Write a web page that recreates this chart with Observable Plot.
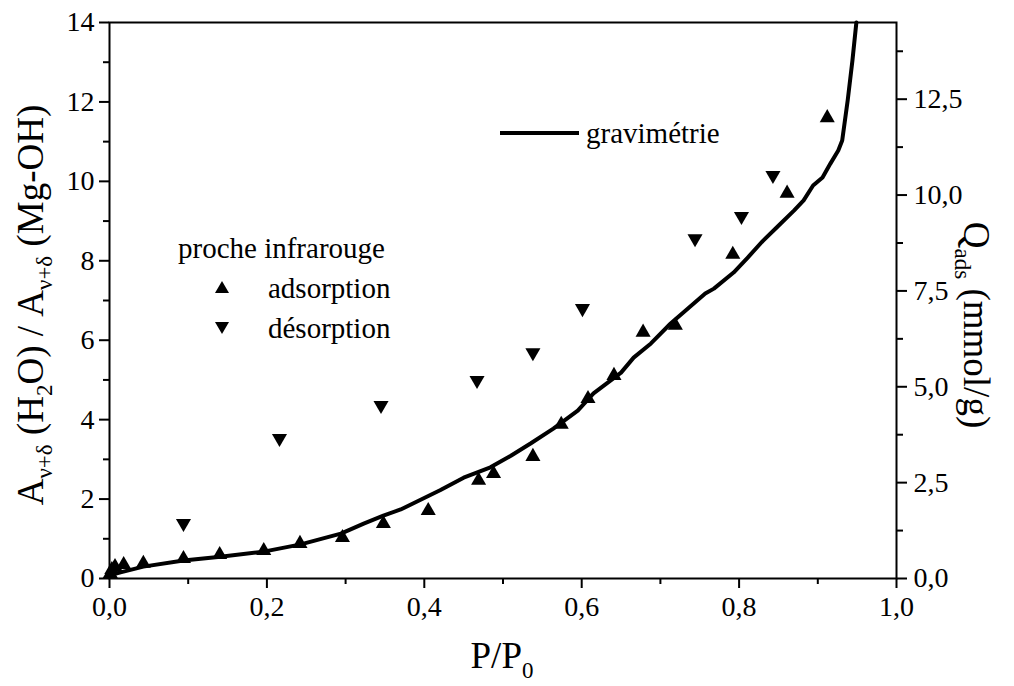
<!DOCTYPE html>
<html>
<head>
<meta charset="utf-8">
<script src="https://cdn.jsdelivr.net/npm/d3@7"></script>
<script src="https://cdn.jsdelivr.net/npm/@observablehq/plot@0.6"></script>
<style>
  body { margin: 0; background: #fff; }
  #chart { width: 1014px; height: 686px; }
  #chart svg, #chart svg text, #chart svg tspan {
    font-family: "Liberation Serif", "DejaVu Serif", "Times New Roman", serif !important;
  }
</style>
</head>
<body>
<div id="chart"></div>
<script>
// Near-infrared band ratio A(H2O)/A(Mg-OH), adsorption branch
const adsP = [0.001, 0.003, 0.007, 0.018, 0.043, 0.094, 0.140, 0.196, 0.242, 0.296, 0.348, 0.405,
              0.469, 0.488, 0.538, 0.574, 0.608, 0.641, 0.678, 0.719, 0.792, 0.861, 0.912];
const adsA = [0.12, 0.22, 0.30, 0.35, 0.38, 0.50, 0.60, 0.70, 0.88, 1.03, 1.38, 1.71,
              2.47, 2.64, 3.07, 3.88, 4.53, 5.11, 6.20, 6.37, 8.16, 9.70, 11.60];

// Near-infrared band ratio, desorption branch
const desP = [0.094, 0.216, 0.345, 0.467, 0.538, 0.601, 0.744, 0.803, 0.843];
const desA = [1.39, 3.53, 4.36, 4.99, 5.69, 6.80, 8.56, 9.12, 10.15];

// Gravimetric isotherm: adsorbed amount Q_ads (mmol/g)
const gravP = [0.000, 0.014, 0.043, 0.094, 0.141, 0.196, 0.243, 0.294, 0.323, 0.348, 0.370, 0.396,
               0.420, 0.450, 0.484, 0.510, 0.535, 0.564, 0.595, 0.615, 0.650, 0.666, 0.688, 0.713,
               0.735, 0.757, 0.768, 0.793, 0.811, 0.830, 0.850, 0.870, 0.882, 0.894, 0.906, 0.916,
               0.926, 0.931, 0.938, 0.944, 0.949];
const gravQ = [0.08, 0.16, 0.31, 0.47, 0.57, 0.70, 0.89, 1.17, 1.43, 1.64, 1.80, 2.06,
               2.30, 2.63, 2.90, 3.20, 3.52, 3.91, 4.38, 4.83, 5.37, 5.76, 6.13, 6.65,
               7.04, 7.43, 7.56, 7.98, 8.37, 8.80, 9.20, 9.60, 9.86, 10.25, 10.46, 10.82,
               11.16, 11.42, 12.47, 13.51, 14.50];

// Axis ticks
const xTicks = [0, 0.2, 0.4, 0.6, 0.8, 1.0];
const xMinor = [0.1, 0.3, 0.5, 0.7, 0.9];
const leftTicks = [0, 2, 4, 6, 8, 10, 12, 14];
const leftMinor = [1, 3, 5, 7, 9, 11, 13];
const rightTicks = [0, 2.5, 5, 7.5, 10, 12.5];
const rightMinor = [1.25, 3.75, 6.25, 8.75, 11.25, 13.75];

// Left axis spans 0–14 (band ratio), right axis spans 0–14.5 (mmol/g)
const A_MAX = 14, Q_MAX = 14.5;
const qToA = q => q * A_MAX / Q_MAX;
const aToQ = a => Math.round(a * Q_MAX / A_MAX * 100) / 100;
const comma1 = v => v.toFixed(1).replace(".", ",");

const ads = adsP.map((p, i) => ({p, a: adsA[i]}));
const des = desP.map((p, i) => ({p, a: desA[i]}));
const grav = gravP.map((p, i) => ({p, a: qToA(gravQ[i])}));

const SERIF = "'Liberation Serif', 'DejaVu Serif', 'Times New Roman', serif";
const blank = () => "";
const plot = Plot.plot({
  width: 1014,
  height: 686,
  marginTop: 22,
  marginBottom: 108,
  marginLeft: 109,
  marginRight: 118,
  x: {domain: [0, 1]},
  y: {domain: [0, A_MAX]},
  style: {fontFamily: SERIF, fontSize: "28px", color: "#000", background: "#fff"},
  marks: [
    Plot.line(grav, {x: "p", y: "a", stroke: "#000", strokeWidth: 4, strokeLinejoin: "round"}),
    Plot.dot(ads, {x: "p", y: "a", symbol: "triangle", r: 5.6, fill: "#000"}),
    Plot.dot(des, {x: "p", y: "a", symbol: "triangle", r: 5.6, fill: "#000", rotate: 180}),
    Plot.axisX({ticks: xTicks, tickFormat: comma1, tickSize: 10, tickPadding: 8, strokeWidth: 2, label: null}),
    Plot.axisX({ticks: xMinor, tickFormat: blank, tickSize: 6, strokeWidth: 2, label: null}),
    Plot.axisY({ticks: leftTicks, tickFormat: d => String(d), tickSize: 10, tickPadding: 5, strokeWidth: 2, label: null}),
    Plot.axisY({ticks: leftMinor, tickFormat: blank, tickSize: 6, strokeWidth: 2, label: null}),
    Plot.axisY({anchor: "right", ticks: rightTicks.map(qToA), tickFormat: a => comma1(aToQ(a)),
                tickSize: 10, tickPadding: 7, strokeWidth: 2, label: null}),
    Plot.axisY({anchor: "right", ticks: rightMinor.map(qToA), tickFormat: blank, tickSize: 6, strokeWidth: 2, label: null}),
    Plot.frame({stroke: "#000", strokeWidth: 2})
  ]
});
document.getElementById("chart").appendChild(plot);

// Axis titles with subscripts, and the legend
const svg = d3.select(plot).attr("font-family", SERIF);
const notes = svg.append("g").attr("fill", "#000").attr("font-family", SERIF);

function rich(text, parts, subSize, shift) {
  let down = false;
  for (const [t, sub] of parts) {
    const ts = text.append("tspan").text(t);
    if (sub) {
      ts.attr("font-size", subSize);
      if (!down) ts.attr("dy", shift);
      down = true;
    } else if (down) {
      ts.attr("dy", -shift);
      down = false;
    }
  }
}

const yTitle = notes.append("text")
  .attr("transform", "translate(43,305) rotate(-90)")
  .attr("text-anchor", "middle").attr("font-size", 37);
rich(yTitle, [["A"], ["\u03BD+\u03B4", 1], [" (H"], ["2", 1], ["O) / A"], ["\u03BD+\u03B4", 1], [" (Mg-OH)"]], 23, 9);

const qTitle = notes.append("text")
  .attr("transform", "translate(964,325) rotate(90)")
  .attr("text-anchor", "middle").attr("font-size", 37);
rich(qTitle, [["Q"], ["ads", 1], [" (mmol/g)"]], 23, 9);

const xTitle = notes.append("text")
  .attr("x", 502).attr("y", 668)
  .attr("text-anchor", "middle").attr("font-size", 37);
rich(xTitle, [["P/P"], ["0", 1]], 23, 10);

// Legend
const leg = notes.append("g").attr("font-size", 29).attr("text-anchor", "start");
leg.append("text").attr("x", 178).attr("y", 258).text("proche infrarouge");
const tri = d3.symbol(d3.symbolTriangle, Math.PI * 5.2 * 5.2)();
leg.append("path").attr("d", tri).attr("transform", "translate(222,289)");
leg.append("text").attr("x", 268).attr("y", 298).text("adsorption");
leg.append("path").attr("d", tri).attr("transform", "translate(222,326) rotate(180)");
leg.append("text").attr("x", 268).attr("y", 338).text("d\u00E9sorption");
leg.append("line").attr("x1", 500).attr("x2", 579).attr("y1", 133).attr("y2", 133)
  .attr("stroke", "#000").attr("stroke-width", 4);
leg.append("text").attr("x", 586).attr("y", 143).text("gravim\u00E9trie");
</script>
</body>
</html>
